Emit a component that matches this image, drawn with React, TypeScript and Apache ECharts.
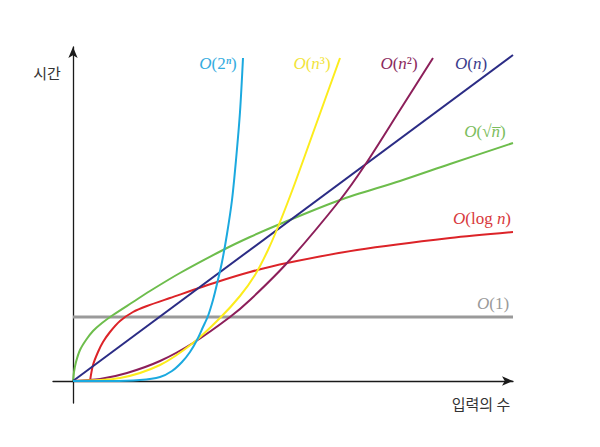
import React, { useEffect, useRef } from "react";
import * as echarts from "echarts";

// Readings of each curve (x: input size, y: time), in chart units
const constant = [[0, 64], [440, 64]];
const logN = [[17, 0], [20, 16], [25, 29], [30, 39], [37, 49], [47, 60], [60, 69], [74, 75], [97, 83], [144, 99], [177, 109], [214, 118], [284, 131], [377, 143], [440, 149]];
const sqrtN = [[0, 0], [1, 9], [3, 19], [7, 31], [13, 41], [20, 50], [29, 58], [40, 66], [60, 79], [77, 90], [107, 108], [150, 131], [177, 144], [207, 157], [267, 181], [327, 200], [377, 217], [440, 238]];
const linearN = [[0, 0], [440, 326]];
const squareN = [[0, 0], [27, 2], [54, 8], [87, 20], [120, 38], [157, 64], [177, 81], [214, 118], [267, 181], [292, 216], [327, 271], [360, 323]];
const cubeN = [[0, 0], [47, 3], [87, 16], [120, 38], [147, 63], [167, 85], [182, 106], [195, 131], [207, 159], [222, 198], [240, 248], [267, 323]];
const expN = [[0, 0], [37, 0], [67, 1], [87, 4], [99, 10], [109, 19], [117, 29], [124, 41], [130, 54], [135, 65], [140, 81], [144, 97], [149, 119], [154, 147], [159, 181], [163, 221], [167, 269], [170, 323]];

const xAxisTitle = "입력의 수";
const yAxisTitle = "시간";

const SERIF = "'Liberation Serif', 'DejaVu Serif', serif";
const SANS = "'Noto Sans CJK KR', 'Noto Sans', sans-serif";

function mathLabel(parts: [string, boolean][], color: string, x: number, y: number) {
  const text = parts.map(([t, it]) => `{${it ? "i" : "r"}|${t}}`).join("");
  return {
    type: "text",
    x,
    y,
    style: {
      text,
      align: "center",
      verticalAlign: "middle",
      fill: color,
      rich: {
        i: { fontFamily: SERIF, fontStyle: "italic", fontSize: 17, fill: color },
        r: { fontFamily: SERIF, fontSize: 17, fill: color },
      },
    },
  };
}

export default function App() {
  const ref = useRef<HTMLDivElement>(null);
  useEffect(() => {
    if (!ref.current) return;
    const chart = echarts.init(ref.current, undefined, { renderer: "svg" });
    const mk = (name: string, data: number[][], color: string, width = 2, smooth: number | boolean = 0.3) => ({
      name,
      type: "line",
      data,
      showSymbol: false,
      symbol: "none",
      smooth,
      clip: false,
      lineStyle: { color, width },
      z: 3,
    });
    const axisLine = {
      show: true,
      onZero: true,
      symbol: ["none", "arrow"],
      symbolSize: [7, 11],
      lineStyle: { color: "#1a1a1a", width: 1.3 },
    };
    chart.setOption({
      animation: false,
      backgroundColor: "#ffffff",
      grid: { left: 53, right: 87, top: 47, bottom: 44 },
      xAxis: {
        type: "value",
        min: -20,
        max: 440,
        axisLine,
        axisTick: { show: false },
        axisLabel: { show: false },
        splitLine: { show: false },
      },
      yAxis: {
        type: "value",
        min: -22,
        max: 334,
        axisLine,
        axisTick: { show: false },
        axisLabel: { show: false },
        splitLine: { show: false },
      },
      series: [
        mk("O(1)", constant, "#9a9a9a", 3, false),
        mk("O(log n)", logN, "#dc2328"),
        mk("O(√n)", sqrtN, "#6dbd4c"),
        mk("O(n)", linearN, "#2b2c85", 2, false),
        mk("O(n²)", squareN, "#8c1f5a"),
        mk("O(n³)", cubeN, "#fcec1c"),
        mk("O(2ⁿ)", expN, "#1ba9df"),
      ],
      graphic: [
        mathLabel([["O", true], ["(2", false], ["ⁿ", true], [")", false]], "#35ace0", 218, 63),
        mathLabel([["O", true], ["(", false], ["n", true], ["³)", false]], "#f2e43a", 312, 63),
        mathLabel([["O", true], ["(", false], ["n", true], ["²)", false]], "#8b2a5d", 399, 63),
        mathLabel([["O", true], ["(", false], ["n", true], [")", false]], "#3b3c8c", 471, 63),
        mathLabel([["O", true], ["(√", false], ["n̅", true], [")", false]], "#7bbd5d", 485, 131),
        mathLabel([["O", true], ["(log ", false], ["n", true], [")", false]], "#d8393c", 482, 218),
        mathLabel([["O", true], ["(1)", false]], "#9a9a9a", 493, 303),
        {
          type: "text",
          x: 47,
          y: 72,
          style: { text: yAxisTitle, align: "center", verticalAlign: "middle", fontFamily: SANS, fontSize: 15, fill: "#333" },
        },
        {
          type: "text",
          x: 481,
          y: 403,
          style: { text: xAxisTitle, align: "center", verticalAlign: "middle", fontFamily: SANS, fontSize: 15, fill: "#333" },
        },
      ],
    });
    return () => chart.dispose();
  }, []);
  return <div ref={ref} style={{ position: "fixed", left: 0, top: 0, width: 600, height: 447 }} />;
}
